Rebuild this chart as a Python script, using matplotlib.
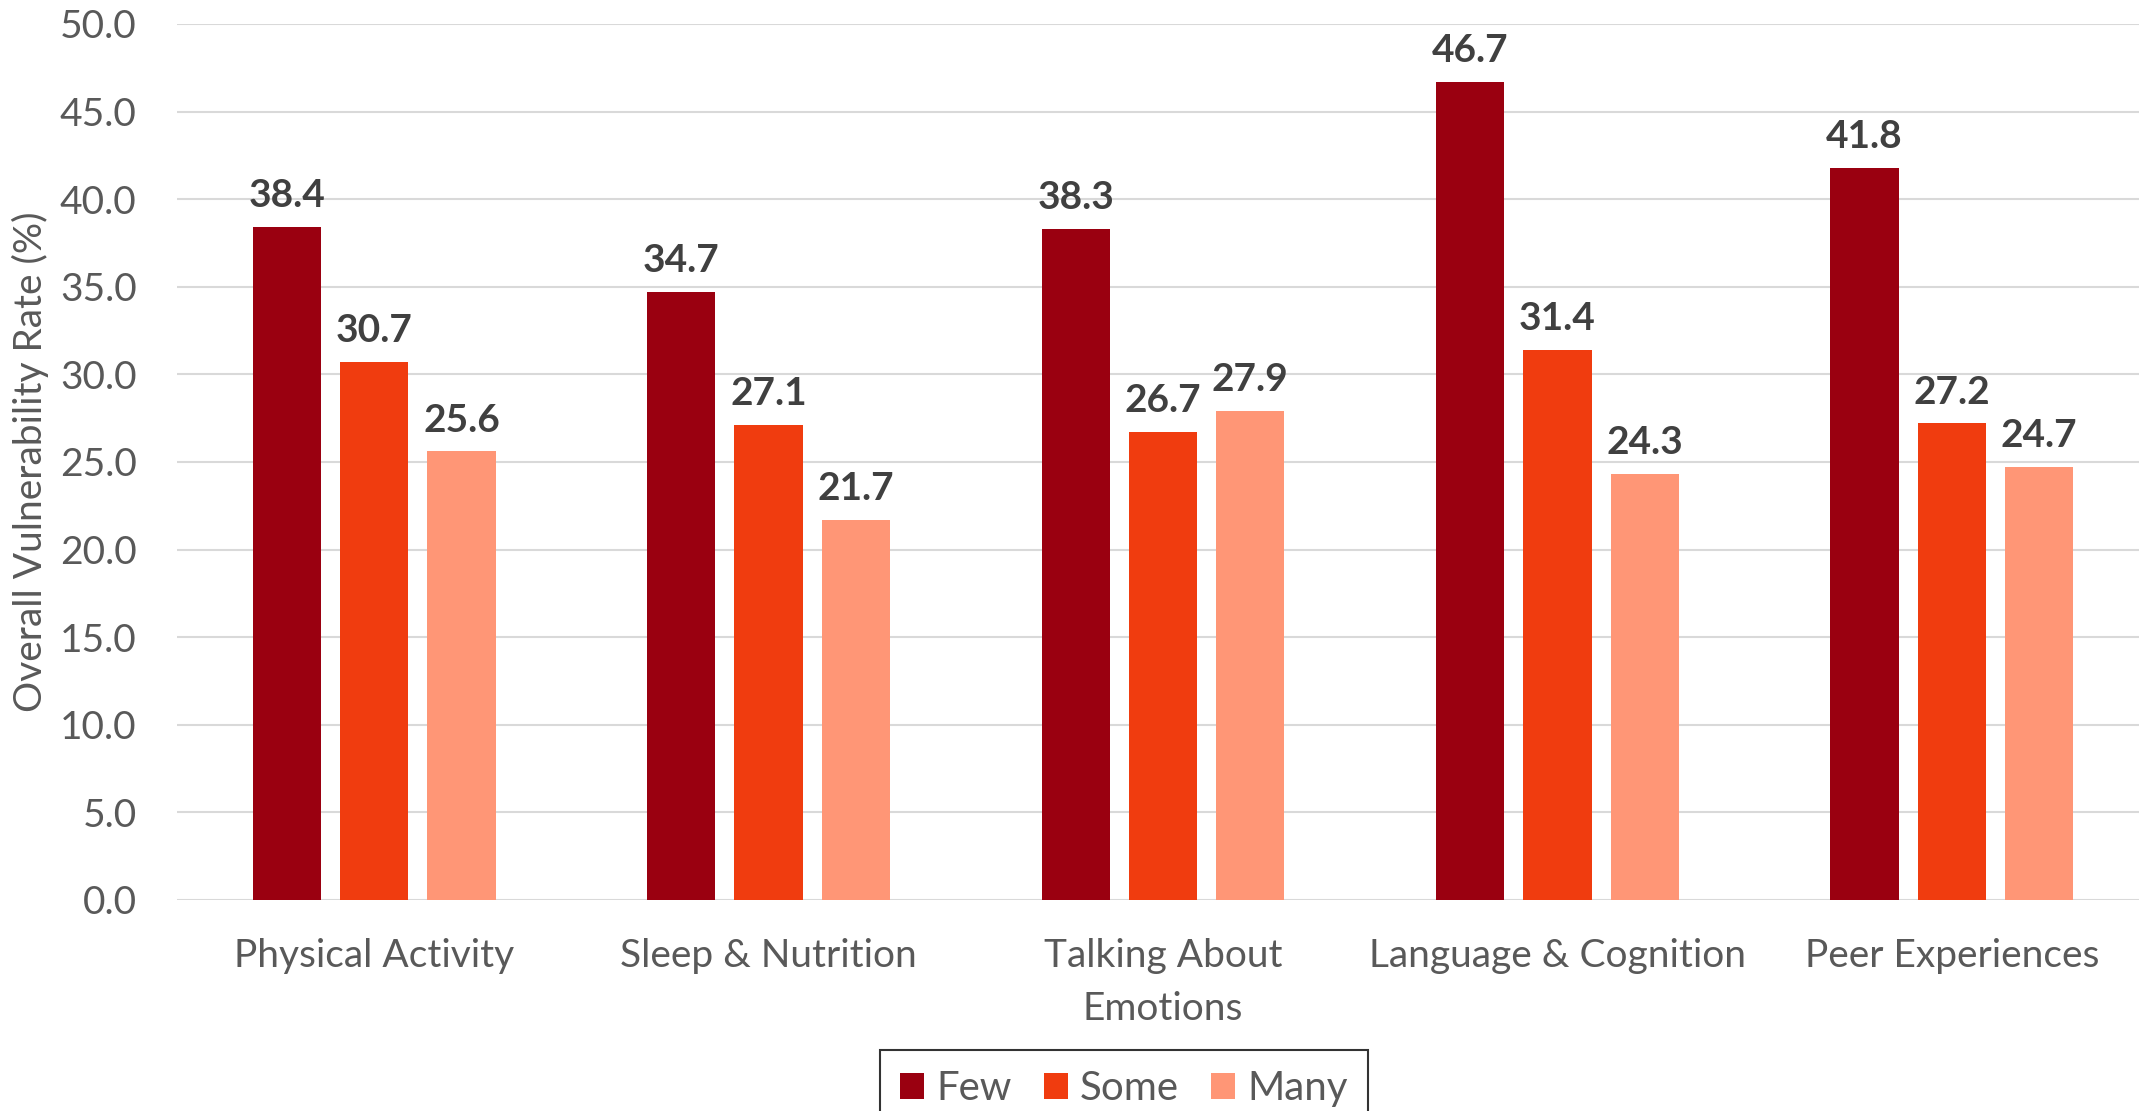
import matplotlib
matplotlib.use("Agg")
import matplotlib.pyplot as plt
import numpy as np

categories = ["Physical Activity", "Sleep & Nutrition", "Talking About\nEmotions",
              "Language & Cognition", "Peer Experiences"]
series_names = ["Few", "Some", "Many"]
few = [38.4, 34.7, 38.3, 46.7, 41.8]
some = [30.7, 27.1, 26.7, 31.4, 27.2]
many = [25.6, 21.7, 27.9, 24.3, 24.7]
yticks = [0, 5, 10, 15, 20, 25, 30, 35, 40, 45, 50]
colors = ["#9A0010", "#F03C0F", "#FF9676"]

plt.rcParams['font.family'] = ['Lato', 'DejaVu Sans']

fig = plt.figure(figsize=(21.39, 11.11), dpi=100)
ax = fig.add_axes([177/2139, 1-900/1111, (2149-177)/2139, (900-24)/1111])

x = np.arange(len(categories))
step = 0.2215
width = 0.173
for i, (vals, name, c) in enumerate(zip([few, some, many], series_names, colors)):
    pos = x + (i-1)*step
    ax.bar(pos, vals, width, color=c, label=name, zorder=3)
    for p, v in zip(pos, vals):
        ax.annotate(f"{v:.1f}", (p, v), xytext=(0, 10), textcoords="offset points",
                    ha="center", va="bottom", fontsize=28, fontweight="bold",
                    color="#404040", zorder=4)

ax.set_xlim(-0.5, len(categories)-0.5)
ax.set_ylim(0, 50)
ax.set_yticks(yticks)
ax.set_yticklabels([f"{t:.1f}" for t in yticks])
ax.yaxis.grid(True, color="#D9D9D9", linewidth=1.5, zorder=0)
for s in ax.spines.values():
    s.set_visible(False)
ax.tick_params(axis='y', length=0, pad=29, labelsize=28, labelcolor="#595959")
ax.tick_params(axis='x', length=0, pad=27, labelsize=28, labelcolor="#595959")
ax.set_xticks(x)
ax.set_xticklabels(categories, linespacing=1.6)

fig.text(30/2139, 1-462/1111, "Overall Vulnerability Rate (%)", rotation=90,
         ha="center", va="center", fontsize=28, color="#595959")

leg = fig.legend(loc="upper center", bbox_to_anchor=(1124/2139, 1-1050/1111), ncol=3,
                 fontsize=29, frameon=True, fancybox=False, edgecolor="black",
                 handlelength=0.6, handleheight=0.6, handletextpad=0.3, columnspacing=0.8,
                 borderpad=0.5, borderaxespad=0, labelcolor="#595959")
leg.get_frame().set_linewidth(1.5)

fig.savefig("out.png", dpi=100)
